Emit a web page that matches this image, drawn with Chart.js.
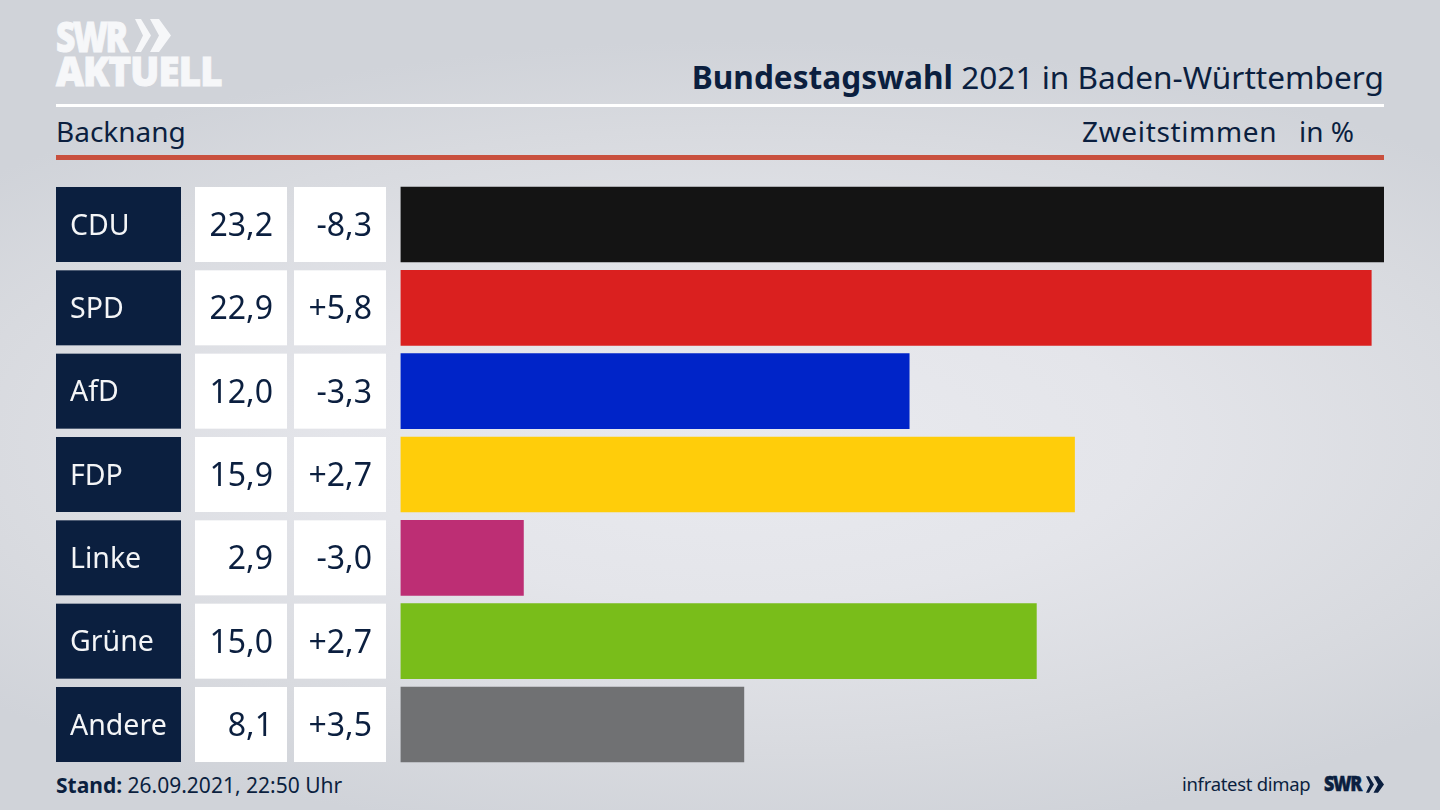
<!DOCTYPE html>
<html lang="de"><head><meta charset="utf-8">
<script src="https://cdn.jsdelivr.net/npm/chart.js@4"></script>
<style>
html,body{margin:0;padding:0;width:1440px;height:810px;overflow:hidden}
body{position:relative;font-family:"Noto Sans",sans-serif;color:#0b1f3f;
background:radial-gradient(ellipse 1000px 400px at 740px 440px,#e9eaef 0%,#e4e5ea 40%,#d8dadf 78%,#d0d3d9 100%)}
#c{position:absolute;left:0;top:0;width:1440px;height:810px}
.t{position:absolute;white-space:nowrap;line-height:1}
.rule{position:absolute;left:56px;width:1328px}
.logo{font-family:"Open Sans";font-weight:800;-webkit-text-stroke:1px currentColor;transform-origin:0 50%}
svg{position:absolute}
</style></head><body>
<div class="t logo" style="left:56px;top:15px;font-size:42px;color:#f6f7f9;letter-spacing:-3px;transform:scaleX(.8)">SWR</div>
<svg style="left:135px;top:19px" width="36" height="33" viewBox="0 0 36 33"><path d="M0 0h6l10 16.500-10 16.500h-6l8-16.500zM15 0h9l12 16.500-12 16.500h-9l9-16.500z" fill="#f6f7f9"/></svg>
<div class="t logo" style="left:56px;top:51px;font-size:40px;color:#f6f7f9;letter-spacing:-.9px;transform:scaleX(.96)">AKTUELL</div>
<div class="t" id="title" style="right:56px;top:61px;font-size:31.600px"><b>Bundestagswahl</b> 2021 in Baden-Württemberg</div>
<div class="rule" style="top:104px;height:3px;background:#fff"></div>
<div class="t" style="left:56px;top:117px;font-size:28px">Backnang</div>
<div class="t" style="left:1082px;top:117px;font-size:28px;letter-spacing:.65px">Zweitstimmen</div>
<div class="t" style="left:1299px;top:117px;font-size:28px">in %</div>
<div class="rule" style="top:155px;height:5px;background:#c9503e"></div>
<div class="t" style="left:56px;top:775px;font-size:21px"><b>Stand:</b> 26.09.2021, 22:50 Uhr</div>
<div class="t" style="left:1182px;top:775px;font-size:18.500px;letter-spacing:-.3px">infratest dimap</div>
<div class="t logo" style="left:1324px;top:773px;font-size:21px;letter-spacing:-1.500px;-webkit-text-stroke:.5px currentColor;transform:scaleX(.85)">SWR</div>
<svg style="left:1366px;top:776px" width="18" height="17" viewBox="0 0 36 33"><path d="M0 0h6l10 16.500-10 16.500h-6l8-16.500zM15 0h9l12 16.500-12 16.500h-9l9-16.500z" fill="#0b1f3f"/></svg>
<canvas id="c" width="1440" height="810"></canvas>
<script>
const parties = ["CDU","SPD","AfD","FDP","Linke","Grüne","Andere"];
const shares = [23.2,22.9,12.0,15.9,2.9,15.0,8.1];
const shareLabels = ["23,2","22,9","12,0","15,9","2,9","15,0","8,1"];
const diffLabels = ["-8,3","+5,8","-3,3","+2,7","-3,0","+2,7","+3,5"];
const colors = ["#141414","#da201f","#0024c8","#ffcd0a","#bd2e74","#79bd1a","#707173"];
const cells = {
  id:'cells',
  afterDraw(chart){
    const {ctx,scales:{y}} = chart;
    const h = 75;
    ctx.save();
    ctx.textBaseline='middle';
    parties.forEach((p,i)=>{
      const cy = y.getPixelForValue(i), top = cy-h/2;
      ctx.fillStyle='#0b1f3f'; ctx.fillRect(56,top,125,h);
      ctx.fillStyle='#fff'; ctx.fillRect(195,top,92,h); ctx.fillRect(294,top,92,h);
      ctx.font = '28.500px "Noto Sans"';
      ctx.textAlign='left'; ctx.fillStyle='#f4f5f7'; ctx.fillText(p,70,cy+2);
      ctx.font = '32px "Noto Sans"';
      ctx.textAlign='right'; ctx.fillStyle='#0b1f3f';
      ctx.fillText(shareLabels[i],273,cy+2.5); ctx.fillText(diffLabels[i],372,cy+2.5);
    });
    ctx.restore();
  }
};
new Chart(document.getElementById('c'),{
  type:'bar',
  data:{labels:parties,datasets:[{data:shares,backgroundColor:colors,barThickness:75,borderWidth:0}]},
  options:{
    indexAxis:'y',responsive:false,animation:false,events:[],
    layout:{padding:{left:400.5,right:56,top:182.83,bottom:43.83}},
    plugins:{legend:{display:false},tooltip:{enabled:false},title:{display:false}},
    scales:{
      x:{display:false,min:0,max:23.2},
      y:{display:false,grid:{display:false}}
    }
  },
  plugins:[cells]
});
</script>
</body></html>
